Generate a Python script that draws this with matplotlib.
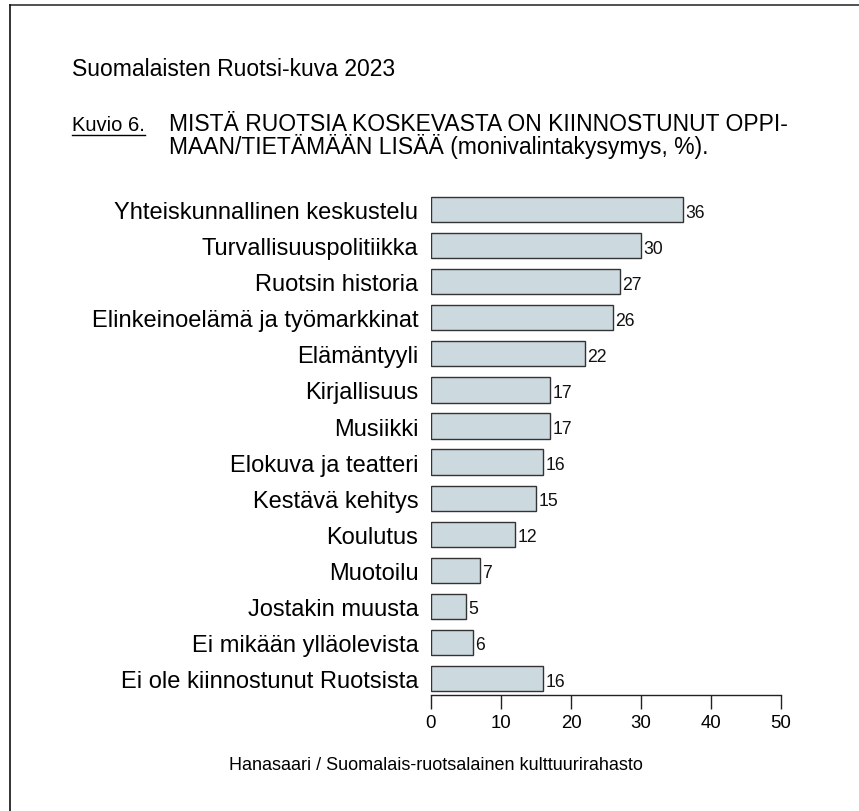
import matplotlib
matplotlib.use("Agg")
import matplotlib.pyplot as plt
from matplotlib.lines import Line2D

plt.rcParams['font.family'] = ['Liberation Sans', 'DejaVu Sans']

categories = ["Yhteiskunnallinen keskustelu", "Turvallisuuspolitiikka", "Ruotsin historia",
              "Elinkeinoelämä ja työmarkkinat", "Elämäntyyli", "Kirjallisuus", "Musiikki",
              "Elokuva ja teatteri", "Kestävä kehitys", "Koulutus", "Muotoilu",
              "Jostakin muusta", "Ei mikään ylläolevista", "Ei ole kiinnostunut Ruotsista"]
values = [36, 30, 27, 26, 22, 17, 17, 16, 15, 12, 7, 5, 6, 16]
xticks = [0, 10, 20, 30, 40, 50]

W, H = 859, 812
fig = plt.figure(figsize=(W / 100, H / 100), dpi=100)

def fx(px):
    return px / W

def fy(py):
    return 1 - py / H

ax = fig.add_axes([fx(431), fy(696), fx(781) - fx(431), fy(192.5) - fy(696)])
pos = list(range(len(categories)))
ax.barh(pos, values, height=0.70, color='#CCD9DE', edgecolor='#333333', linewidth=1.0)
for p, v in zip(pos, values):
    ax.text(v + 0.35, p + 0.07, str(v), va='center', ha='left', fontsize=12.7, color='#111111')
ax.set_ylim(13.456, -0.5)
ax.set_xlim(0, 50)
ax.set_xticks(xticks)
ax.set_xticklabels([str(t) for t in xticks], fontsize=13.4)
ax.set_yticks(pos)
ax.set_yticklabels(categories, fontsize=17)
ax.tick_params(axis='y', length=0, pad=9)
ax.tick_params(axis='x', length=10, width=1, pad=4, direction='out', color='#222222')
for s in ['top', 'right', 'left']:
    ax.spines[s].set_visible(False)
ax.spines['bottom'].set_linewidth(1.0)
ax.spines['bottom'].set_color('#222222')

# border lines (top and left)
fig.add_artist(Line2D([fx(10), 1], [fy(6), fy(6)], color='#333333', linewidth=1.2))
fig.add_artist(Line2D([fx(10), fx(10)], [fy(6), 0], color='#111111', linewidth=1.2))

fig.text(fx(72), fy(76), "Suomalaisten Ruotsi-kuva 2023", fontsize=16.5, va='baseline', ha='left')
k = fig.text(fx(72), fy(131), "Kuvio 6.", fontsize=14.5, va='baseline', ha='left')
fig.text(fx(169), fy(131), "MISTÄ RUOTSIA KOSKEVASTA ON KIINNOSTUNUT OPPI-", fontsize=16.5,
         va='baseline', ha='left')
fig.text(fx(169), fy(154), "MAAN/TIETÄMÄÄN LISÄÄ (monivalintakysymys, %).", fontsize=16.5,
         va='baseline', ha='left')
fig.text(fx(436), fy(770), "Hanasaari / Suomalais-ruotsalainen kulttuurirahasto", fontsize=13,
         va='baseline', ha='center')

fig.canvas.draw()
bb = k.get_window_extent()
x0, x1 = bb.x0 / fig.bbox.width, bb.x1 / fig.bbox.width
yline = fy(136)
fig.add_artist(Line2D([x0, x1], [yline, yline], color='black', linewidth=1.0))

fig.savefig("out.png", dpi=100)
